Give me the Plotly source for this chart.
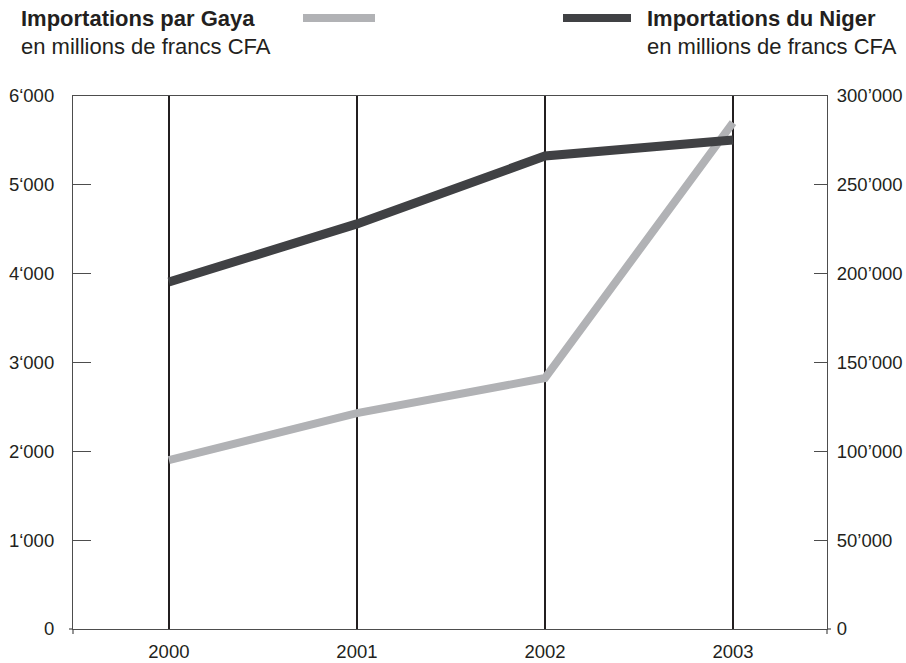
import plotly.graph_objects as go

years = ["2000", "2001", "2002", "2003"]
gaya = [1900, 2430, 2825, 5700]          # millions FCFA, left axis
niger = [195300, 228000, 266200, 275200]  # millions FCFA, right axis

left_vals = [0, 1000, 2000, 3000, 4000, 5000, 6000]
left_text = ["0", "1‘000", "2‘000", "3‘000", "4‘000", "5‘000", "6‘000"]
right_vals = [0, 50000, 100000, 150000, 200000, 250000, 300000]
right_text = ["0", "50’000", "100’000", "150’000", "200’000", "250’000", "300’000"]

W, H = 906, 663
L, R, T, B = 73, 827, 96, 629

def px(x):
    return (x - L) / (R - L)

def py(y):
    return (B - y) / (B - T)

FONT = "Liberation Sans, Arial, Helvetica, sans-serif"
TXT = "#231f20"
AX = "#4d4d4d"
TICKFS = 18.5
HEADFS = 22

fig = go.Figure()
fig.add_trace(go.Scatter(x=years, y=gaya, mode="lines",
                         line=dict(color="#b1b2b5", width=8), yaxis="y",
                         hoverinfo="skip"))
fig.add_trace(go.Scatter(x=years, y=niger, mode="lines",
                         line=dict(color="#404144", width=9), yaxis="y2",
                         hoverinfo="skip"))

fig.update_layout(
    width=W, height=H,
    margin=dict(l=L, r=W - R, t=T, b=H - B),
    paper_bgcolor="white", plot_bgcolor="white",
    showlegend=False,
    font=dict(family=FONT, size=TICKFS, color=TXT),
    xaxis=dict(type="category", range=[-0.51, 3.5], automargin=False,
               showgrid=True, gridcolor=TXT, gridwidth=2,
               showline=True, linecolor=AX, linewidth=1.2, mirror=True,
               ticks="", zeroline=False, tickfont=dict(size=TICKFS),
               ticklabelstandoff=6),
    yaxis=dict(range=[0, 6000], tickmode="array", tickvals=left_vals, ticktext=left_text,
               automargin=False,
               ticks="inside", ticklen=18, tickcolor=AX, tickwidth=1.2,
               showline=True, linecolor=AX, linewidth=1.2,
               showgrid=False, zeroline=False, tickfont=dict(size=TICKFS),
               ticklabelstandoff=14),
    yaxis2=dict(range=[0, 300000], overlaying="y", side="right", automargin=False,
                tickmode="array", tickvals=right_vals, ticktext=right_text,
                ticks="inside", ticklen=13, tickcolor=AX, tickwidth=1.2,
                showline=True, linecolor=AX, linewidth=1.2,
                showgrid=False, zeroline=False, tickfont=dict(size=TICKFS),
                ticklabelstandoff=5),
)

shapes = [
    dict(type="rect", xref="paper", yref="paper", x0=px(303), x1=px(375), y0=py(22), y1=py(14),
         fillcolor="#b1b2b5", line=dict(width=0)),
    dict(type="rect", xref="paper", yref="paper", x0=px(563), x1=px(631), y0=py(22), y1=py(14),
         fillcolor="#404144", line=dict(width=0)),
    # small corner crosses
    dict(type="line", xref="paper", yref="paper", x0=px(L), x1=px(L), y0=py(B), y1=py(B + 5),
         line=dict(color=AX, width=1.2)),
    dict(type="line", xref="paper", yref="paper", x0=px(L - 4), x1=px(L), y0=py(B), y1=py(B),
         line=dict(color=AX, width=1.2)),
    dict(type="line", xref="paper", yref="paper", x0=px(R), x1=px(R), y0=py(B), y1=py(B + 5),
         line=dict(color=AX, width=1.2)),
    dict(type="line", xref="paper", yref="paper", x0=px(R), x1=px(R + 4), y0=py(B), y1=py(B),
         line=dict(color=AX, width=1.2)),
]
fig.update_layout(shapes=shapes)

ann = [
    dict(text="<b>Importations par Gaya</b>", x=px(19), y=py(18)),
    dict(text="en millions de francs CFA", x=px(19), y=py(46.5)),
    dict(text="<b>Importations du Niger</b>", x=px(645), y=py(18)),
    dict(text="en millions de francs CFA", x=px(645), y=py(46.5)),
]
for a in ann:
    fig.add_annotation(xref="paper", yref="paper", xanchor="left", yanchor="middle",
                       showarrow=False, font=dict(family=FONT, size=HEADFS, color=TXT), **a)

fig.write_html("out.html", config={"displayModeBar": False},
               post_script="document.body.style.margin='0';")
